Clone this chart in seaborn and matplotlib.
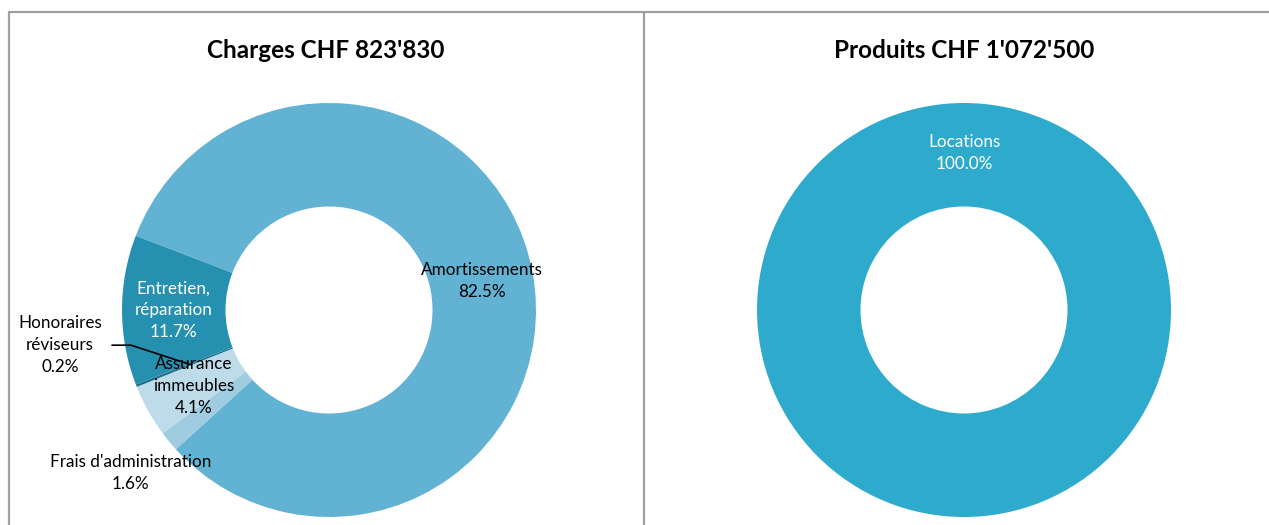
import matplotlib.pyplot as plt
import numpy as np
import seaborn as sns
from matplotlib.lines import Line2D

# Charges (order as drawn clockwise, starting from the top-left boundary)
charge_names = ["Amortissements", "Frais d'administration", "Assurance\nimmeubles",
                "Honoraires\nréviseurs", "Entretien,\nréparation"]
charge_pct = [82.5, 1.6, 4.1, 0.2, 11.7]
charge_colors = ["#62b3d3", "#9fcce0", "#bddbe8", "#1f6f8a", "#2690b0"]
charge_text_colors = ["black", "black", "black", "black", "white"]
charge_label_r = [0.75, 1.24, 0.75, None, 0.75]

# Produits
product_names = ["Locations"]
product_pct = [100.0]
product_colors = ["#2eaacc"]

title_charges = "Charges CHF 823'830"
title_products = "Produits CHF 1'072'500"

W, H = 1269, 525
sns.set_theme(style="white")
plt.rcParams["font.family"] = ["Lato", "DejaVu Sans"]

fig = plt.figure(figsize=(W / 100, H / 100), dpi=100)
fig.patch.set_facecolor("white")

R = 207  # outer radius in px
label_fs = 12.3
lsp = 1.45


def donut(cx, cy, values, colors, startangle):
    ax = fig.add_axes([(cx - R) / W, (H - cy - R) / H, 2 * R / W, 2 * R / H])
    wedges, _ = ax.pie(values, colors=colors, startangle=startangle, counterclock=False,
                       radius=1.0, wedgeprops=dict(width=0.5, linewidth=0))
    ax.set_xlim(-1, 1)
    ax.set_ylim(-1, 1)
    ax.set_aspect("equal")
    ax.axis("off")
    return ax, wedges


def mid_angle(w):
    return np.deg2rad((w.theta1 + w.theta2) / 2)


# left donut
ax1, w1 = donut(329, 310, charge_pct, charge_colors, startangle=159)
for w, name, pct, tc, r in zip(w1, charge_names, charge_pct, charge_text_colors, charge_label_r):
    a = mid_angle(w)
    txt = f"{name}\n{pct:.1f}%"
    if r is None:
        # small slice: label outside with leader line
        ax1.annotate(txt, xy=(0.72 * np.cos(a), 0.72 * np.sin(a)), xytext=(-1.30, -0.17),
                     ha="center", va="center", fontsize=label_fs, color=tc, linespacing=lsp,
                     arrowprops=dict(arrowstyle="-", color="black", lw=1.2,
                                     shrinkA=5, shrinkB=0,
                                     connectionstyle="angle,angleA=0,angleB=162,rad=0"),
                     annotation_clip=False)
        continue
    ax1.text(r * np.cos(a), r * np.sin(a), txt, ha="center", va="center",
             fontsize=label_fs, color=tc, linespacing=lsp)

# right donut
ax2, w2 = donut(964, 310, product_pct, product_colors, startangle=-90)
for w, name, pct in zip(w2, product_names, product_pct):
    a = mid_angle(w)
    ax2.text(0.76 * np.cos(a), 0.76 * np.sin(a), f"{name}\n{pct:.1f}%", ha="center",
             va="center", fontsize=label_fs, color="white", linespacing=lsp)

# titles
fig.text(326 / W, 1 - 50 / H, title_charges, ha="center", va="center",
         fontsize=17.5, fontweight="bold", color="black")
fig.text(964 / W, 1 - 50 / H, title_products, ha="center", va="center",
         fontsize=17.5, fontweight="bold", color="black")

# panel borders
border = dict(color="#a0a0a0", lw=1.6, transform=fig.transFigure)
fig.add_artist(Line2D([9 / W, 1], [1 - 12 / H, 1 - 12 / H], **border))
fig.add_artist(Line2D([9 / W, 9 / W], [0, 1 - 12 / H], **border))
fig.add_artist(Line2D([644 / W, 644 / W], [0, 1 - 12 / H], **border))

fig.savefig("out.png", dpi=100, facecolor="white")
